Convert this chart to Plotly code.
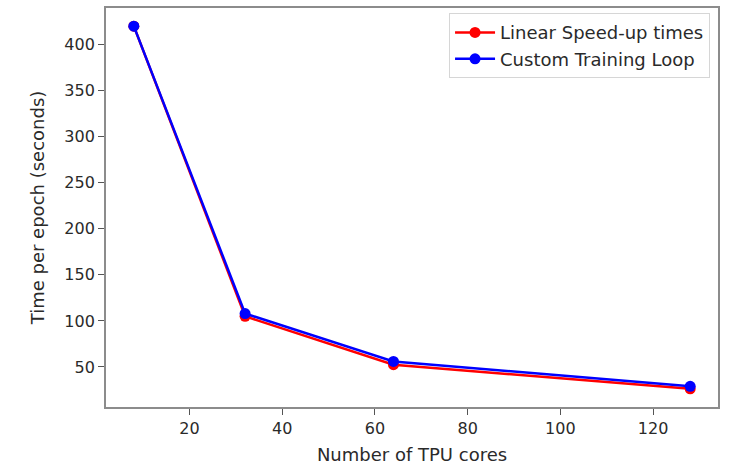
import plotly.graph_objects as go

tpu_cores = [8, 32, 64, 128]
linear_speedup = [420, 105, 52.5, 26.25]
custom_loop = [420, 108, 56, 29]

x_ticks = [20, 40, 60, 80, 100, 120]
y_ticks = [50, 100, 150, 200, 250, 300, 350, 400]

FONT = "DejaVu Sans"
TXT = "#2a2a2a"

def padded(vals, frac=0.05):
    lo, hi = min(vals), max(vals)
    m = (hi - lo) * frac
    return [lo - m, hi + m]

fig = go.Figure()
fig.add_trace(go.Scatter(
    x=tpu_cores, y=linear_speedup, mode="lines+markers",
    name="Linear Speed-up times", legendgroup="a",
    line=dict(color="red", width=2.5),
    marker=dict(color="red", size=11),
))
fig.add_trace(go.Scatter(
    x=tpu_cores, y=custom_loop, mode="lines+markers",
    name="Custom Training Loop", legendgroup="b",
    line=dict(color="blue", width=2.5),
    marker=dict(color="blue", size=11),
))

axis_common = dict(
    showgrid=False, zeroline=False, showline=True, mirror=True,
    linecolor="#8c8c8c", linewidth=1.8, automargin=False,
    ticks="outside", ticklen=6, tickwidth=1.2, tickcolor="#555",
    tickfont=dict(family=FONT, size=16, color=TXT),
)

fig.update_layout(
    width=729, height=465,
    margin=dict(l=106, r=11, t=8, b=58),
    paper_bgcolor="white", plot_bgcolor="white",
    font=dict(family=FONT, size=16, color=TXT),
    xaxis=dict(
        range=padded(tpu_cores), tickvals=x_ticks,
        title=dict(text="Number of TPU cores", font=dict(family=FONT, size=18, color=TXT), standoff=15),
        **axis_common,
    ),
    yaxis=dict(
        range=padded(linear_speedup + custom_loop), tickvals=y_ticks,
        title=dict(text="Time per epoch (seconds)", font=dict(family=FONT, size=18, color=TXT), standoff=15),
        **axis_common,
    ),
    legend=dict(
        x=0.987, xanchor="right", y=0.987, yanchor="top",
        bgcolor="rgba(255,255,255,0.8)", bordercolor="#d6d6d6", borderwidth=1,
        font=dict(family=FONT, size=18, color=TXT),
        tracegroupgap=0, itemwidth=40,
    ),
    showlegend=True,
)

fig.write_html(
    "out.html",
    config={"displayModeBar": False},
    post_script="document.body.style.margin='0';document.body.style.padding='0';",
)
